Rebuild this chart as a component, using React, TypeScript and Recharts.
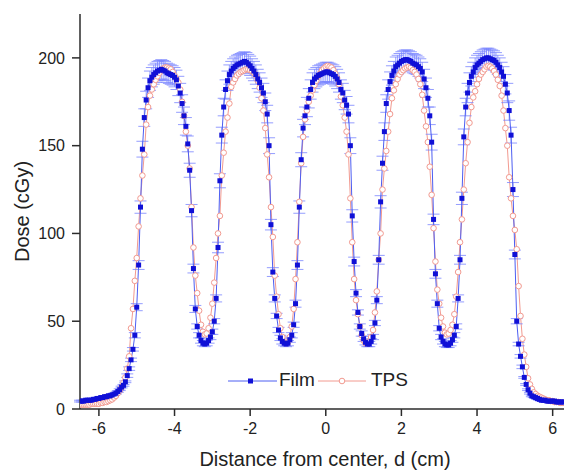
import { LineChart, Line, XAxis, YAxis, ErrorBar } from 'recharts';

// sampling grid of the profiles (cm)
const X_START = -6.5;
const X_STEP = 0.05;

// Film dose (cGy), one row per cm starting at -6.5
const filmDose = [
  4.5, 4.5, 4.5, 5, 5, 5, 5, 5.5, 5.5, 6, 6, 6.5, 6.5, 7, 7, 7.5, 7.5, 8, 8.5, 9,
  10, 11, 12.5, 13.5, 15.5, 19, 23, 28, 34, 42, 58, 82, 115, 148, 166, 176, 183, 187, 189, 190.5,
  191.5, 192.5, 193, 193.5, 193, 192.5, 191.5, 191, 190.5, 190, 189, 187.5, 184, 180, 174, 167, 161, 151, 136, 113,
  80, 57, 47, 42, 39, 37.5, 37, 37.5, 39, 41, 44, 50, 63, 92, 130, 156, 172, 182, 187, 190.5,
  192.5, 194, 195, 196, 196.5, 197, 197.5, 198, 197.5, 196.5, 195.5, 194, 192.5, 190.5, 188, 186, 183, 180, 175, 168,
  150, 105, 78, 63, 53, 45, 40.5, 38.5, 37.5, 37, 37.5, 39.5, 42, 48, 60, 82, 115, 142, 160, 167,
  172, 177, 182, 186, 188, 189, 190, 190.5, 191, 191.5, 192, 192, 191.5, 191, 190.5, 189.5, 188, 186, 182, 180,
  176, 173, 168, 150, 110, 84, 66, 55, 47, 43, 40, 38, 37, 37, 38.5, 41, 49, 62, 85, 118,
  140, 158, 174, 182, 186.5, 190, 192.5, 195, 196, 197, 198, 198.5, 199, 199, 198.5, 198, 197, 196.5, 196, 195,
  194, 192, 188, 183, 177, 167, 152, 108, 77, 60, 46, 41, 38.5, 37, 36.5, 36.5, 37.5, 39.5, 42, 47,
  63, 85, 120, 155, 172, 180, 186, 189.5, 192, 194.5, 196, 197, 198, 199, 199.5, 200, 200, 199.5, 199, 198.5,
  197.5, 196, 194.5, 192, 189.5, 185, 180, 170, 156, 125, 88, 50, 37, 30, 24, 18, 14, 11, 9, 7.5,
  7, 6.5, 6, 5.5, 5, 5, 5, 4.5, 4.5, 4.5, 4.5, 4.5, 4, 4, 4, 4, 4,
];

// Film uncertainty (cGy)
const filmErr = [
  0.5, 0.5, 0.5, 0.5, 0.5, 0.5, 0.5, 0.5, 0.5, 0.5, 0.5, 0.5, 0.5, 0.5, 0.5, 0.5, 0.5, 0.5, 0.5, 0.5,
  0.5, 0.5, 0.5, 0.5, 0.5, 1, 1, 1, 1, 1.5, 2, 2.5, 3.5, 4.5, 5, 5, 5.5, 5.5, 5.5, 5.5,
  5.5, 5.5, 5.5, 5.5, 5.5, 5.5, 5.5, 5.5, 5.5, 5.5, 5.5, 5.5, 5.5, 5.5, 5, 5, 5, 4.5, 4, 3.5,
  2.5, 2, 1.5, 1.5, 1.5, 1.5, 1.5, 1.5, 1.5, 1.5, 1.5, 1.5, 2, 3, 4, 4.5, 5, 5.5, 5.5, 5.5,
  5.5, 5.5, 5.5, 5.5, 5.5, 5.5, 5.5, 5.5, 5.5, 5.5, 5.5, 5.5, 5.5, 5.5, 5.5, 5.5, 5.5, 5.5, 5, 5,
  4.5, 3, 2.5, 2, 1.5, 1.5, 1.5, 1.5, 1.5, 1.5, 1.5, 1.5, 1.5, 1.5, 2, 2.5, 3.5, 4, 5, 5,
  5.5, 5.5, 5.5, 5.5, 5.5, 5.5, 5.5, 5.5, 5.5, 5.5, 5.5, 5.5, 5.5, 5.5, 5.5, 5.5, 5.5, 5.5, 5.5, 5.5,
  5.5, 5, 5, 4.5, 3.5, 2.5, 2, 1.5, 1.5, 1.5, 1.5, 1.5, 1.5, 1.5, 1.5, 1.5, 1.5, 2, 2.5, 3.5,
  4, 5, 5, 5.5, 5.5, 5.5, 5.5, 5.5, 5.5, 5.5, 5.5, 5.5, 5.5, 5.5, 5.5, 5.5, 5.5, 5.5, 5.5, 5.5,
  5.5, 5.5, 5.5, 5.5, 5, 5, 4.5, 3, 2.5, 2, 1.5, 1.5, 1.5, 1.5, 1.5, 1.5, 1.5, 1.5, 1.5, 1.5,
  2, 2.5, 3.5, 4.5, 5, 5.5, 5.5, 5.5, 5.5, 5.5, 5.5, 5.5, 5.5, 5.5, 5.5, 5.5, 5.5, 5.5, 5.5, 5.5,
  5.5, 5.5, 5.5, 5.5, 5.5, 5.5, 5.5, 5.5, 4.5, 4, 2.5, 1.5, 1, 1, 1, 0.5, 0.5, 0.5, 0.5, 0.5,
  0.5, 0.5, 0.5, 0.5, 0.5, 0.5, 0.5, 0.5, 0.5, 0.5, 0.5, 0.5, 0.5, 0.5, 0.5, 0.5, 0.5,
];

// TPS dose (cGy)
const tpsDose = [
  2.5, 2.5, 2.5, 2.5, 2.5, 2.5, 3, 3, 3, 3, 3, 3.5, 3.5, 4, 4, 4.5, 5, 5.5, 6.5, 7.5,
  9, 10.5, 12.5, 15, 18, 23, 30, 46, 57, 73, 86, 104, 120, 133, 145, 162, 172, 178.5, 182, 185,
  187.5, 189.5, 191.5, 193, 194, 194.5, 194.5, 194, 193.5, 192, 190, 188, 186, 182, 175, 167, 158, 150, 137, 115,
  92, 76, 66, 56, 48, 44, 42.5, 43, 46, 52, 60, 72, 86, 100, 110, 133, 146, 158, 166, 174,
  183.5, 186, 188, 190, 191, 192, 192.5, 193, 193.5, 193.5, 193, 192.5, 191.5, 190, 187, 183, 177, 170, 160, 145,
  132, 115, 98, 76, 64, 54, 46, 41, 38, 37.5, 38, 41, 47, 57, 74, 95, 118, 140, 155, 165,
  170, 175, 178.5, 181.5, 184.5, 187, 189.5, 191, 193, 194, 195, 195.5, 195, 194.5, 193, 191, 188.5, 185, 178, 173,
  166, 158, 145, 120, 95, 74, 62, 54, 47, 42, 39, 37.5, 37.5, 38.5, 41, 45, 55, 67, 85, 100,
  125, 137, 147, 158, 168, 177, 181.5, 185, 188, 190.5, 192, 193, 194, 194.5, 195, 194.5, 193, 192, 190.5, 188,
  185, 179, 170, 161, 152, 138, 122, 103, 84, 68, 60, 52, 47, 43.5, 42.5, 43, 45, 48, 54, 64,
  78, 95, 108, 125, 140, 152, 163, 172, 177.5, 181, 185, 188, 190.5, 192, 193.5, 195, 195.5, 195, 194, 192.5,
  190.5, 187.5, 184, 178.5, 170, 160, 150, 132, 120, 110, 102, 91, 70, 53, 40, 31, 24, 17.5, 14, 11.5,
  9.5, 8.5, 7.5, 7, 6.5, 6, 5.5, 5, 5, 4.5, 4.5, 4, 4, 4, 3.5, 3.5, 3.5,
];

const xMajor = [-6, -4, -2, 0, 2, 4, 6];
const xMinor = [-5, -3, -1, 1, 3, 5];
const yMajor = [0, 50, 100, 150, 200];
const yMinor = [25, 75, 125, 175];

const data = filmDose.map((v, i) => ({
  x: Math.round((X_START + i * X_STEP) * 100) / 100,
  film: v,
  err: filmErr[i],
  tps: tpsDose[i],
}));

const AXIS = '#2b2b2b';
const FILM_LINE = '#4d5ef2';
const FILM_MARK = '#1010d6';
const TPS_LINE = '#f29a90';

function FilmDot(p: any) {
  if (p.cx == null || p.cy == null) return <g key={`f${p.index}`} />;
  return <rect key={`f${p.index}`} x={p.cx - 2.5} y={p.cy - 2.5} width={5} height={5} fill={FILM_MARK} />;
}

function TpsDot(p: any) {
  if (p.cx == null || p.cy == null) return <g key={`t${p.index}`} />;
  return <circle key={`t${p.index}`} cx={p.cx} cy={p.cy} r={2.8} fill="#fff" stroke={TPS_LINE} strokeWidth={1} />;
}

function App() {
  const xDomain = [-6.5, 6.3];
  const yDomain = [0, 225];
  const tl = { stroke: AXIS, strokeWidth: 1.5 };

  return (
    <div style={{ position: 'absolute', left: 0, top: 0, width: 564, height: 470, background: '#fff', fontFamily: '"Liberation Sans", Arial, sans-serif', overflow: 'hidden' }}>
      <LineChart width={564} height={470} data={data} margin={{ top: 14, right: 0, bottom: 0, left: 0 }}>
        <XAxis xAxisId="topMinor" orientation="top" type="number" dataKey="x" domain={xDomain} allowDataOverflow
          ticks={xMinor} interval={0} height={0} tick={false} tickSize={-4} axisLine={false} tickLine={tl} />
        <XAxis xAxisId="top" orientation="top" type="number" dataKey="x" domain={xDomain} allowDataOverflow
          ticks={xMajor} interval={0} height={0} tick={false} tickSize={-7} axisLine={tl} tickLine={tl} />
        <XAxis xAxisId="bottomMinor" type="number" dataKey="x" domain={xDomain} allowDataOverflow
          ticks={xMinor} interval={0} height={0} tick={false} tickSize={4} axisLine={false} tickLine={tl} />
        <XAxis xAxisId={0} type="number" dataKey="x" domain={xDomain} allowDataOverflow
          ticks={xMajor} interval={0} height={61} tickSize={7} tickMargin={7} axisLine={tl} tickLine={tl}
          tick={{ fontSize: 16, fill: '#222' }}
          label={{ value: 'Distance from center, d (cm)', position: 'insideBottom', offset: 4, dx: 3, fontSize: 20, fill: '#222' }} />
        <YAxis yAxisId="leftMinor" type="number" domain={yDomain} allowDataOverflow
          ticks={yMinor} interval={0} width={0} tick={false} tickSize={4} axisLine={false} tickLine={tl} />
        <YAxis yAxisId={0} type="number" domain={yDomain} allowDataOverflow
          ticks={yMajor} interval={0} width={80} tickSize={8} tickMargin={7} axisLine={tl} tickLine={tl}
          tick={{ fontSize: 16, fill: '#222' }}
          label={{ value: 'Dose (cGy)', angle: -90, position: 'insideLeft', offset: 22, fontSize: 20, fill: '#222', style: { textAnchor: 'middle' } }} />
        <Line type="linear" dataKey="tps" stroke={TPS_LINE} strokeWidth={1} dot={TpsDot} activeDot={false} isAnimationActive={false} />
        <Line type="linear" dataKey="film" stroke={FILM_LINE} strokeWidth={1} dot={FilmDot} activeDot={false} isAnimationActive={false}>
          <ErrorBar dataKey="err" width={6} stroke="#7884ff" strokeWidth={0.8} direction="y" isAnimationActive={false} />
        </Line>
      </LineChart>

      {/* legend */}
      <svg style={{ position: 'absolute', left: 228, top: 375 }} width={49} height={12}>
        <line x1={0} y1={6} x2={49} y2={6} stroke={FILM_LINE} strokeWidth={1} />
        <rect x={20} y={3.5} width={5} height={5} fill={FILM_MARK} />
      </svg>
      <span style={{ position: 'absolute', left: 279, top: 369, fontSize: 19, lineHeight: '22px', color: '#222' }}>Film</span>
      <svg style={{ position: 'absolute', left: 318, top: 375 }} width={48} height={12}>
        <line x1={0} y1={6} x2={48} y2={6} stroke={TPS_LINE} strokeWidth={1} />
        <circle cx={24} cy={6} r={2.8} fill="#fff" stroke={TPS_LINE} strokeWidth={1} />
      </svg>
      <span style={{ position: 'absolute', left: 371, top: 369, fontSize: 19, lineHeight: '22px', color: '#222' }}>TPS</span>
    </div>
  );
}

export default App;
